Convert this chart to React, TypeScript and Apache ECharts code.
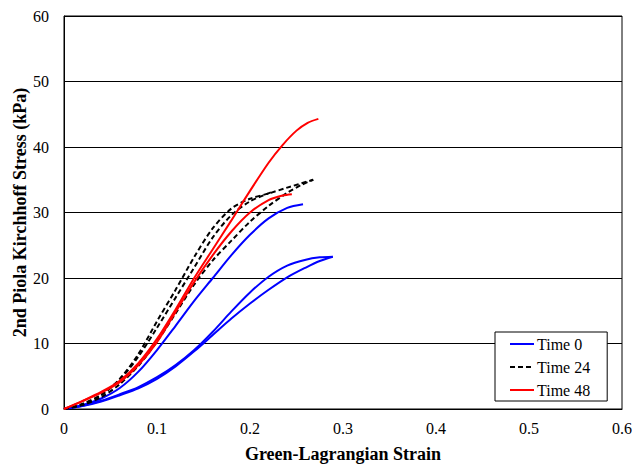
import React, { useEffect, useRef } from "react";
import * as echarts from "echarts";

// Tick labels
const xTicks = [0, 0.1, 0.2, 0.3, 0.4, 0.5, 0.6];
const yTicks = [0, 10, 20, 30, 40, 50, 60];
const legendNames = ["Time 0", "Time 24", "Time 48"];

// Time 0 (blue)
const t0aStrain = [0, 0.02, 0.04, 0.06, 0.08, 0.1, 0.12, 0.14, 0.16, 0.18, 0.2, 0.22, 0.24, 0.257];
const t0aStress = [0, 0.6, 1.6, 3.2, 5.7, 9.0, 12.7, 16.5, 20.0, 23.5, 26.6, 29.1, 30.7, 31.25];
const t0bStrain = [0, 0.02, 0.04, 0.06, 0.08, 0.1, 0.12, 0.14, 0.16, 0.18, 0.2, 0.22, 0.24, 0.26, 0.275, 0.289];
const t0bStress = [0, 0.5, 1.25, 2.25, 3.35, 4.85, 6.7, 9.0, 11.8, 14.9, 17.8, 20.2, 21.9, 22.8, 23.15, 23.25];
const t0cStrain = [0, 0.02, 0.04, 0.06, 0.08, 0.1, 0.12, 0.14, 0.16, 0.18, 0.2, 0.22, 0.24, 0.26, 0.275, 0.289];
const t0cStress = [0, 0.45, 1.15, 2.1, 3.15, 4.6, 6.5, 8.8, 11.3, 13.8, 16.1, 18.2, 20.1, 21.6, 22.6, 23.25];

// Time 24 (black dashed)
const t24aStrain = [0, 0.02, 0.04, 0.06, 0.08, 0.1, 0.12, 0.14, 0.16, 0.18, 0.2, 0.22, 0.24, 0.268];
const t24aStress = [0, 0.7, 2.1, 4.6, 8.4, 13.4, 18.2, 23.2, 27.6, 30.6, 32.1, 32.9, 33.8, 35.0];
const t24bStrain = [0, 0.02, 0.04, 0.06, 0.08, 0.1, 0.12, 0.14, 0.16, 0.18, 0.2, 0.223];
const t24bStress = [0, 0.8, 2.2, 4.5, 8.0, 12.4, 17.0, 21.6, 26.2, 29.6, 31.7, 33.1];
const t24cStrain = [0, 0.02, 0.04, 0.06, 0.08, 0.1, 0.12, 0.14, 0.16, 0.18, 0.2, 0.22, 0.24, 0.255, 0.268];
const t24cStress = [0, 0.6, 1.8, 3.8, 6.6, 10.3, 14.6, 19.0, 22.7, 25.7, 28.6, 31.0, 33.0, 34.2, 35.0];

// Time 48 (red)
const t48aStrain = [0, 0.02, 0.04, 0.06, 0.08, 0.1, 0.12, 0.14, 0.16, 0.18, 0.2, 0.22, 0.235, 0.25, 0.262, 0.2735];
const t48aStress = [0, 1.25, 2.6, 4.3, 7.0, 10.7, 15.2, 20.0, 24.4, 28.8, 33.3, 37.6, 40.3, 42.5, 43.7, 44.3];
const t48bStrain = [0, 0.02, 0.04, 0.06, 0.08, 0.1, 0.12, 0.14, 0.16, 0.18, 0.2, 0.22, 0.235, 0.245];
const t48bStress = [0, 1.2, 2.5, 4.1, 6.7, 10.2, 14.8, 19.4, 23.5, 27.1, 30.0, 31.9, 32.6, 32.8];

const zip = (xs: number[], ys: number[]) => xs.map((x, i) => [x, ys[i]]);

const FONT = "Liberation Serif";

export default function App() {
  const ref = useRef<HTMLDivElement>(null);
  useEffect(() => {
    if (!ref.current) return;
    const chart = echarts.init(ref.current, undefined, { renderer: "svg" });
    const line = (name: string, xs: number[], ys: number[], color: string, dashed: boolean, z: number) => ({
      name,
      type: "line",
      data: zip(xs, ys),
      symbol: "none",
      smooth: 0.3,
      z,
      lineStyle: { color, width: 2, type: dashed ? [5, 3] : "solid" },
      itemStyle: { color },
    });
    chart.setOption({
      animation: false,
      backgroundColor: "#fff",
      textStyle: { fontFamily: FONT, color: "#000" },
      grid: {
        left: 64,
        right: 10,
        top: 16,
        bottom: 55,
        containLabel: false,
        outerBoundsMode: "none",
        show: true,
        borderColor: "#000",
        borderWidth: 1,
      },
      legend: {
        data: legendNames,
        orient: "vertical",
        left: 495,
        top: 332,
        padding: [4, 17, 3, 14],
        itemWidth: 24,
        itemHeight: 14,
        itemGap: 7,
        borderColor: "#000",
        borderWidth: 1,
        backgroundColor: "#fff",
        borderRadius: 0,
        itemStyle: { opacity: 0 },
        textStyle: { fontFamily: FONT, fontSize: 16, color: "#000", lineHeight: 16, padding: [0, 0, 0, -2] },
      },
      xAxis: {
        type: "value",
        min: xTicks[0],
        max: xTicks[xTicks.length - 1],
        interval: 0.1,
        name: "Green-Lagrangian Strain",
        nameLocation: "middle",
        nameGap: 36,
        nameMoveOverlap: false,
        nameTextStyle: { fontFamily: FONT, fontSize: 18, fontWeight: "bold", color: "#000" },
        axisLine: { show: true, lineStyle: { color: "#000", width: 1 } },
        axisTick: { show: false },
        splitLine: { show: false },
        axisLabel: {
          fontFamily: FONT,
          fontSize: 16,
          color: "#000",
          margin: 11,
          formatter: (v: number) => String(Math.round(v * 10) / 10),
        },
      },
      yAxis: {
        type: "value",
        min: yTicks[0],
        max: yTicks[yTicks.length - 1],
        interval: 10,
        name: "2nd Piola Kirchhoff Stress (kPa)",
        nameLocation: "middle",
        nameGap: 35,
        nameMoveOverlap: false,
        nameTextStyle: { fontFamily: FONT, fontSize: 18, fontWeight: "bold", color: "#000" },
        axisLine: { show: true, lineStyle: { color: "#000", width: 1 } },
        axisTick: { show: false },
        splitLine: { show: true, lineStyle: { color: "#000", width: 1 } },
        axisLabel: {
          fontFamily: FONT,
          fontSize: 16,
          color: "#000",
          margin: 15,
        },
      },
      series: [
        line("Time 0", t0aStrain, t0aStress, "#0000ff", false, 2),
        line("Time 0", t0bStrain, t0bStress, "#0000ff", false, 2),
        line("Time 0", t0cStrain, t0cStress, "#0000ff", false, 2),
        line("Time 24", t24aStrain, t24aStress, "#000000", true, 3),
        line("Time 24", t24bStrain, t24bStress, "#000000", true, 3),
        line("Time 24", t24cStrain, t24cStress, "#000000", true, 3),
        line("Time 48", t48aStrain, t48aStress, "#ff0000", false, 4),
        line("Time 48", t48bStrain, t48bStress, "#ff0000", false, 4),
      ],
    });
    return () => chart.dispose();
  }, []);
  return (
    <div
      ref={ref}
      style={{ position: "fixed", left: 0, top: 0, width: 632, height: 464, background: "#fff" }}
    />
  );
}
